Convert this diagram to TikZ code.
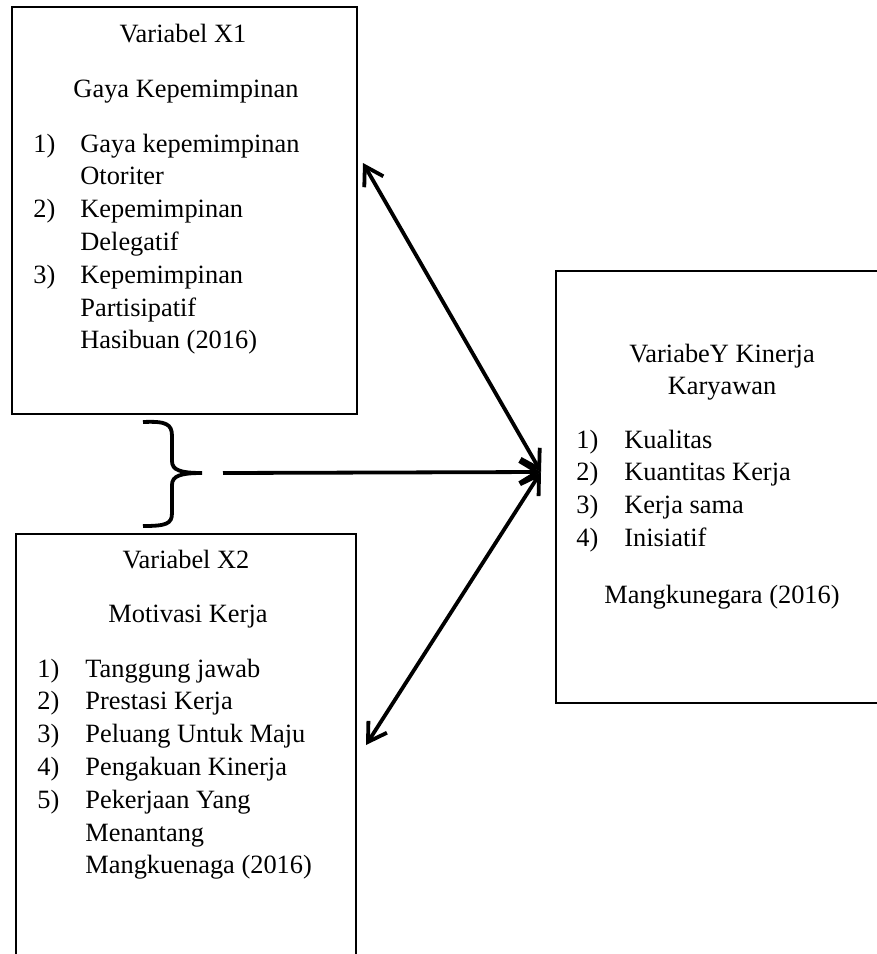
\documentclass[tikz,border=0pt]{standalone}
\usepackage{fontspec}
\setmainfont{Liberation Serif}
\usepackage{tikz}
\usetikzlibrary{arrows.meta}

\begin{document}
\begin{tikzpicture}[x = 0.5pt, y = -0.5pt,
            font = \fontsize{13.2}{16.4}\selectfont,
            > = {Straight Barb[length = 9pt, width = 11pt]},
            box/.style = {draw, line width = 1pt, inner sep = 0pt, anchor = north west},
            label/.style = {inner sep = 0pt, anchor = base},
            items/.style = {inner sep = 0pt, anchor = base west}]
            \useasboundingbox (0,0) rectangle (877,954);
            \clip (0,0) rectangle (877,954);
            
            % boxes
            \node[box, minimum width = 172.5pt, minimum height = 203.5pt] (x1) at (11,6) {};
            \node[box, minimum width = 170pt, minimum height = 225pt] (x2) at (15,533) {};
            \node[box, minimum width = 167.5pt, minimum height = 216pt] (y) at (555,270) {};
            
            % variabel X1
            \node[label] (x1title) at (183,42) {Variabel X1};
            \node[label] (x1name) at (186,97) {Gaya Kepemimpinan};
            \node[items] (x1list) at (33,152) {\begin{tabular}[t]{@{}p{23.5pt}@{}l@{}}
                1) & Gaya kepemimpinan \\
                   & Otoriter \\
                2) & Kepemimpinan \\
                   & Delegatif \\
                3) & Kepemimpinan \\
                   & Partisipatif \\
                   & Hasibuan (2016)
            \end{tabular}};
            
            % variabel X2
            \node[label] (x2title) at (186,568) {Variabel X2};
            \node[label] (x2name) at (188,622) {Motivasi Kerja};
            \node[items] (x2list) at (37,677) {\begin{tabular}[t]{@{}p{24pt}@{}l@{}}
                1) & Tanggung jawab \\
                2) & Prestasi Kerja \\
                3) & Peluang Untuk Maju \\
                4) & Pengakuan Kinerja \\
                5) & Pekerjaan Yang \\
                   & Menantang \\
                   & Mangkuenaga (2016)
            \end{tabular}};
            
            % variabel Y
            \node[label] (ytitle) at (722,362) {\begin{tabular}[t]{@{}c@{}}
                VariabeY Kinerja \\
                Karyawan
            \end{tabular}};
            \node[items] (ylist) at (576,448) {\begin{tabular}[t]{@{}p{24pt}@{}l@{}}
                1) & Kualitas \\
                2) & Kuantitas Kerja \\
                3) & Kerja sama \\
                4) & Inisiatif
            \end{tabular}};
            \node[label] (ysource) at (722,603) {Mangkunegara (2016)};
            
            % brace
            \draw[line width = 1.9pt]
            (143,422) .. controls (166,421) and (172,424) .. (172,436) -- (172,461)
            .. controls (172,470) and (180,473) .. (202,473)
            .. controls (180,473) and (172,476) .. (172,485) -- (172,513)
            .. controls (172,524) and (166,526) .. (143,526);
            
            % arrows
            \coordinate (hub) at (541,472);
            \coordinate (brace) at (223,473);
            \coordinate (toX1) at (363,163);
            \coordinate (toX2) at (366,745);
            \draw[line width = 1.9pt, <->] (toX1) -- (hub);
            \draw[line width = 1.9pt, <->] (toX2) -- (hub);
            \draw[line width = 1.9pt, ->] (brace) -- (hub);
        \end{tikzpicture}
\end{document}
